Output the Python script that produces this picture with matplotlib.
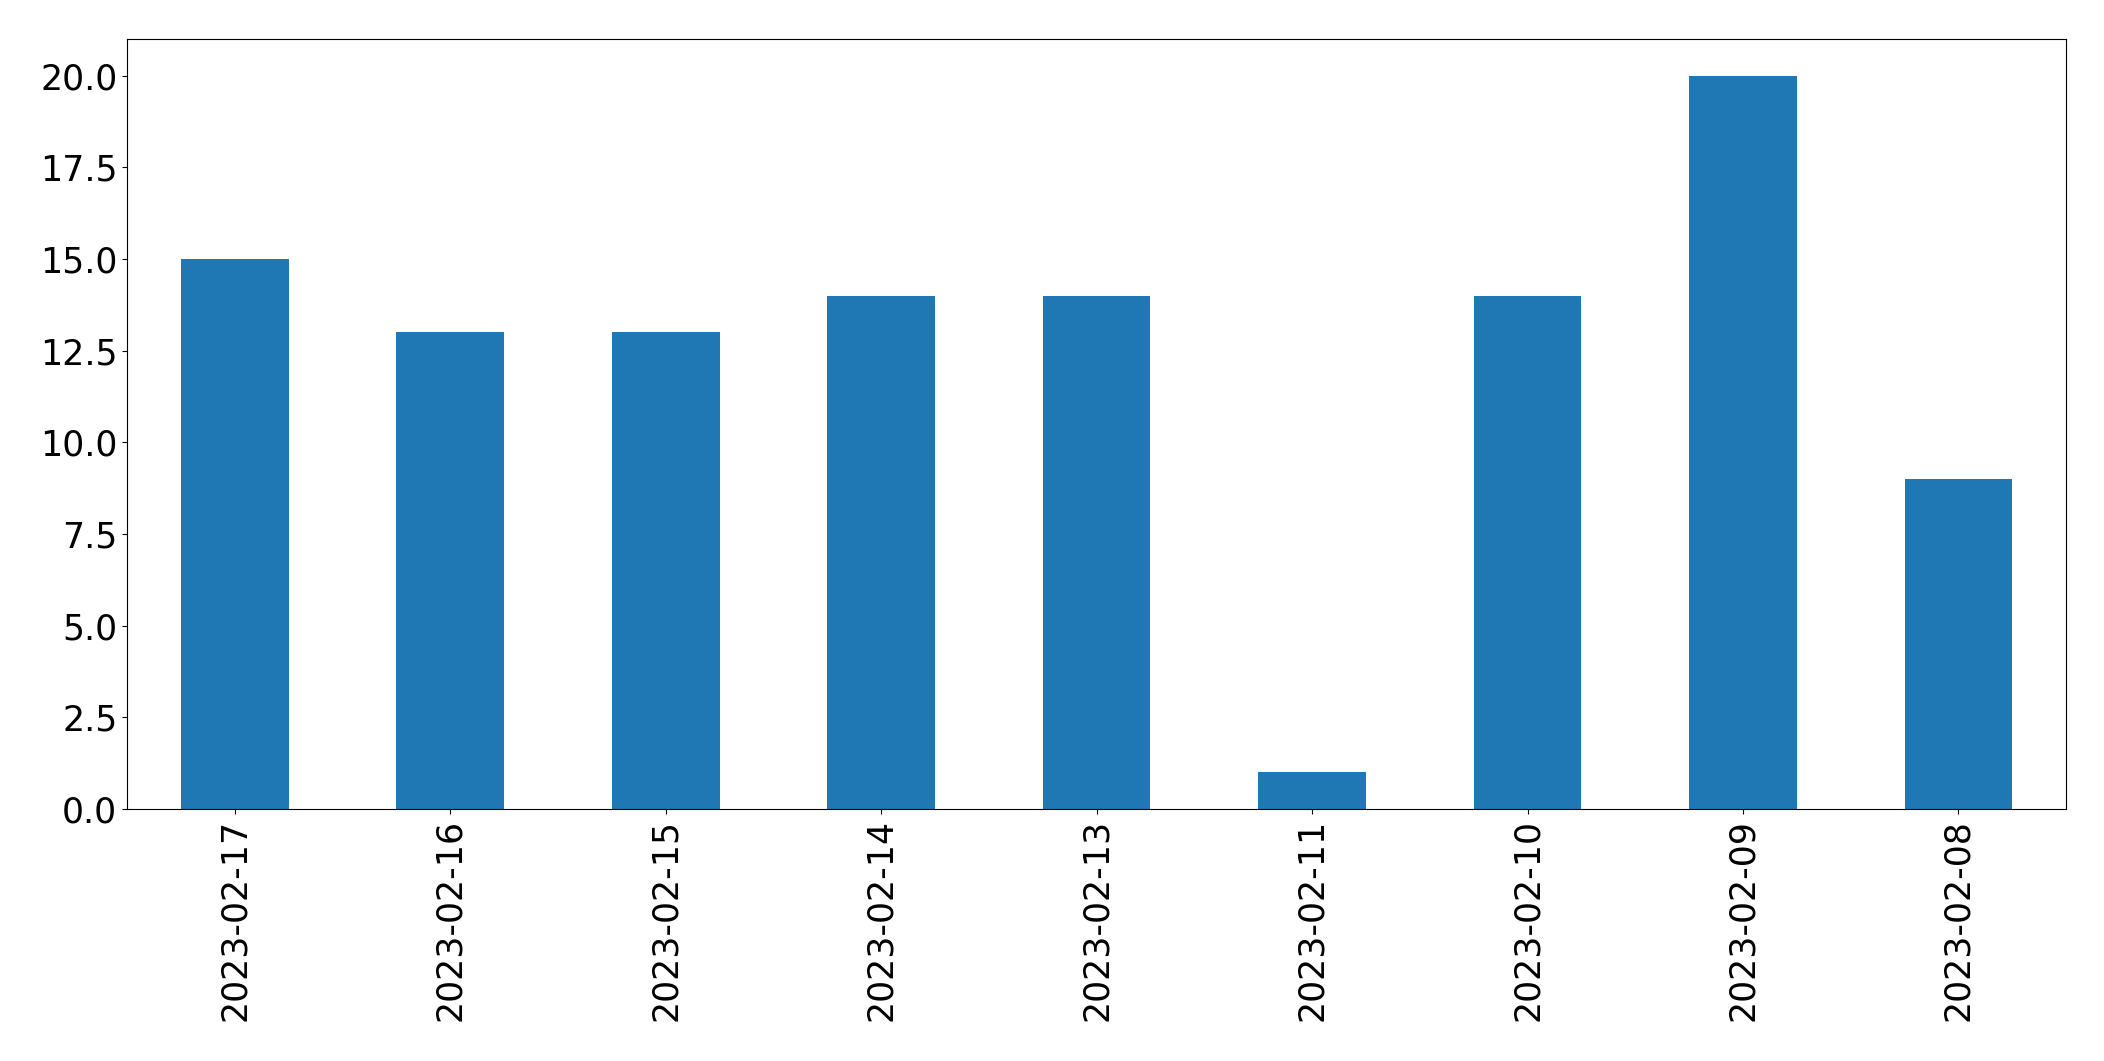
import matplotlib
matplotlib.use('Agg')
import matplotlib.pyplot as plt
import pandas as pd

# daily counts, newest first (as in the source chart)
dates = ['2023-02-17', '2023-02-16', '2023-02-15', '2023-02-14', '2023-02-13',
         '2023-02-11', '2023-02-10', '2023-02-09', '2023-02-08']
counts = [15, 13, 13, 14, 14, 1, 14, 20, 9]

daily = pd.Series(counts, index=dates)

fig = plt.figure(figsize=(21.04, 10.61), dpi=100)
ax = fig.add_subplot(111)
daily.plot(kind='bar', ax=ax, color='#1f77b4', fontsize=25)
fig.subplots_adjust(left=0.0604, right=0.982, top=0.9632, bottom=0.2375)
fig.savefig('out.png', dpi=100)
